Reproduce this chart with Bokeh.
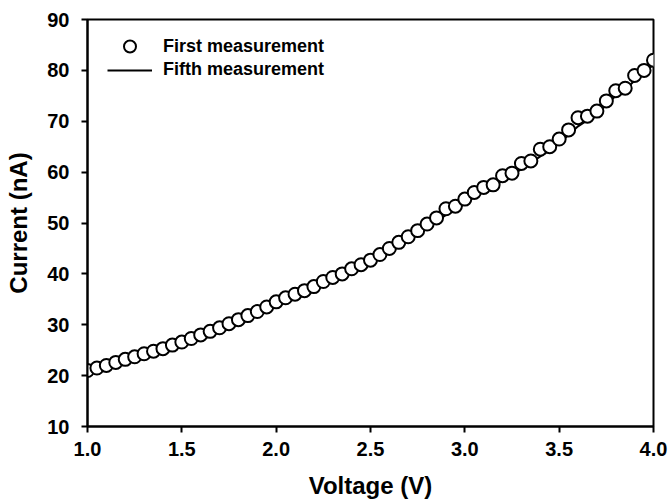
from bokeh.plotting import figure
from bokeh.models import Range1d, FixedTicker, Legend, LegendItem, NumeralTickFormatter
from bokeh.embed import file_html
from bokeh.resources import INLINE

voltage = [1.0, 1.05, 1.1, 1.15, 1.2, 1.25, 1.3, 1.35, 1.4, 1.45,
           1.5, 1.55, 1.6, 1.65, 1.7, 1.75, 1.8, 1.85, 1.9, 1.95,
           2.0, 2.05, 2.1, 2.15, 2.2, 2.25, 2.3, 2.35, 2.4, 2.45,
           2.5, 2.55, 2.6, 2.65, 2.7, 2.75, 2.8, 2.85, 2.9, 2.95,
           3.0, 3.05, 3.1, 3.15, 3.2, 3.25, 3.3, 3.35, 3.4, 3.45,
           3.5, 3.55, 3.6, 3.65, 3.7, 3.75, 3.8, 3.85, 3.9, 3.95, 4.0]

first_current = [21.0, 21.5, 22.0, 22.6, 23.2, 23.7, 24.3, 24.8, 25.3, 26.0,
                 26.6, 27.3, 28.0, 28.7, 29.4, 30.2, 31.0, 31.8, 32.6, 33.5,
                 34.5, 35.3, 36.0, 36.7, 37.5, 38.5, 39.3, 40.0, 41.0, 41.8,
                 42.7, 43.8, 45.0, 46.2, 47.3, 48.5, 49.8, 51.0, 52.8, 53.3,
                 54.7, 56.0, 57.0, 57.5, 59.3, 59.8, 61.7, 62.2, 64.5, 65.0,
                 66.5, 68.3, 70.7, 71.0, 72.0, 74.0, 76.0, 76.5, 79.0, 80.0, 82.0]

fifth_current = [20.8, 21.3, 21.8, 22.4, 23.0, 23.5, 24.1, 24.6, 25.2, 25.8,
                 26.4, 27.1, 27.8, 28.5, 29.2, 30.0, 30.8, 31.6, 32.4, 33.3,
                 34.2, 35.0, 35.8, 36.5, 37.3, 38.2, 39.0, 39.8, 40.7, 41.5,
                 42.4, 43.4, 44.5, 45.6, 46.7, 47.9, 49.1, 50.3, 51.6, 52.6,
                 53.8, 55.1, 56.2, 57.2, 58.3, 59.4, 60.6, 61.8, 63.1, 64.3,
                 65.7, 67.3, 69.0, 70.2, 71.5, 73.2, 75.0, 76.2, 78.0, 79.5, 81.2]

x_ticks = [1.0, 1.5, 2.0, 2.5, 3.0, 3.5, 4.0]
y_ticks = [10, 20, 30, 40, 50, 60, 70, 80, 90]

FONT = "Liberation Sans"

p = figure(width=669, height=501, output_backend="svg", toolbar_location=None,
           x_range=Range1d(1.0, 4.0), y_range=Range1d(10, 90),
           min_border_left=87, min_border_right=16, min_border_top=19,
           min_border_bottom=75)

p.xgrid.visible = False
p.ygrid.visible = False
p.outline_line_color = "black"
p.outline_line_width = 2
p.background_fill_color = "white"
p.border_fill_color = "white"

line_r = p.line(voltage, fifth_current, line_color="black", line_width=2)
circ_r = p.scatter(voltage, first_current, marker="circle", size=13,
                   fill_color="white", line_color="black", line_width=2)

for ax, ticks in ((p.xaxis[0], x_ticks), (p.yaxis[0], y_ticks)):
    ax.ticker = FixedTicker(ticks=ticks, minor_ticks=[])
    ax.axis_line_width = 2
    ax.axis_line_color = "black"
    ax.major_tick_line_width = 2
    ax.major_tick_line_color = "black"
    ax.major_tick_in = 0
    ax.major_tick_out = 6
    ax.minor_tick_line_color = None
    ax.major_label_text_font = FONT
    ax.major_label_text_font_style = "bold"
    ax.major_label_text_font_size = "20px"
    ax.major_label_text_color = "black"
    ax.axis_label_text_font = FONT
    ax.axis_label_text_font_style = "bold"
    ax.axis_label_text_font_size = "24px"
    ax.axis_label_text_color = "black"

p.xaxis[0].axis_label = "Voltage (V)"
p.yaxis[0].axis_label = "Current (nA)"
p.xaxis[0].formatter = NumeralTickFormatter(format="0.0")
p.xaxis[0].major_label_standoff = 9
p.xaxis[0].axis_label_standoff = 13
p.yaxis[0].major_label_standoff = 12
p.yaxis[0].axis_label_standoff = 12

common = dict(margin=0, padding=0, glyph_width=45, label_height=20, spacing=0,
              label_standoff=11, border_line_color=None, background_fill_alpha=0,
              label_text_font=FONT, label_text_font_style="bold",
              label_text_font_size="18px", label_text_color="black")

legend1 = Legend(items=[LegendItem(label="First measurement", renderers=[circ_r])],
                 location=(20, 365), glyph_height=30, **common)
legend2 = Legend(items=[LegendItem(label="Fifth measurement", renderers=[line_r])],
                 location=(20, 346), glyph_height=20, **common)
p.add_layout(legend1)
p.add_layout(legend2)

open("out.html", "w").write(file_html(p, INLINE))
